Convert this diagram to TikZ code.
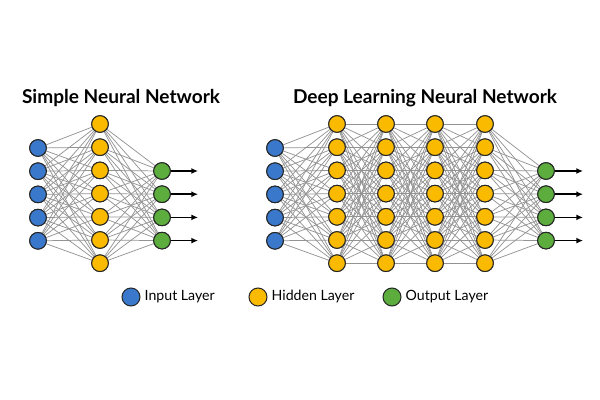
\documentclass[tikz,border=0pt]{standalone}
\usepackage{fontspec}
\setmainfont{Lato}
\begin{document}
\begin{tikzpicture}[x=0.75pt,y=-0.75pt,
  conn/.style={draw=gray!85,line width=0.55pt},
  nd/.style={circle,draw=black!85,line width=0.75pt,minimum size=12.5pt,inner sep=0pt},
  inp/.style={nd,fill={rgb,255:red,58;green,120;blue,204}},
  hid/.style={nd,fill={rgb,255:red,250;green,186;blue,0}},
  outp/.style={nd,fill={rgb,255:red,92;green,172;blue,62}},
  arr/.style={-{Latex[length=5pt,width=4.5pt]},line width=1.1pt},
  ttl/.style={font=\fontsize{14.3}{17}\selectfont\bfseries},
  lg/.style={font=\fontsize{10.6}{12}\selectfont,anchor=west}]
\usetikzlibrary{arrows.meta}
\useasboundingbox (0,0) rectangle (600,400);
% simple network
\foreach \i in {1,...,5} \node[inp] (sa\i) at (38,{148+23.2*(\i-1)}) {};
\foreach \i in {1,...,7} \node[hid] (sb\i) at (100,{124+23.2*(\i-1)}) {};
\foreach \i in {1,...,4} \node[outp] (sc\i) at (162,{171+23.2*(\i-1)}) {};
\foreach \i in {1,...,5} \foreach \j in {1,...,7} \draw[conn] (sa\i) -- (sb\j);
\foreach \i in {1,...,7} \foreach \j in {1,...,4} \draw[conn] (sb\i) -- (sc\j);
\foreach \i in {1,...,5} \node[inp] at (sa\i) {};
\foreach \i in {1,...,7} \node[hid] at (sb\i) {};
\foreach \i in {1,...,4} {\node[outp] at (sc\i) {}; \coordinate (se\i) at (198,{171+23.2*(\i-1)}); \draw[arr] (sc\i) -- (se\i);}
\node[ttl] (t1) at (121,98) {Simple Neural Network};
% deep network
\foreach \i in {1,...,5} \node[inp] (da\i) at (275,{148+23.2*(\i-1)}) {};
\foreach \l/\x in {1/337,2/386,3/435,4/485} \foreach \i in {1,...,7} \node[hid] (h\l-\i) at (\x,{124+23.2*(\i-1)}) {};
\foreach \i in {1,...,4} \node[outp] (dc\i) at (546,{171+23.2*(\i-1)}) {};
\foreach \i in {1,...,5} \foreach \j in {1,...,7} \draw[conn] (da\i) -- (h1-\j);
\foreach \l/\m in {1/2,2/3,3/4} \foreach \i in {1,...,7} \foreach \j in {1,...,7} \draw[conn] (h\l-\i) -- (h\m-\j);
\foreach \i in {1,...,7} \foreach \j in {1,...,4} \draw[conn] (h4-\i) -- (dc\j);
\foreach \i in {1,...,5} \node[inp] at (da\i) {};
\foreach \l in {1,...,4} \foreach \i in {1,...,7} \node[hid] at (h\l-\i) {};
\foreach \i in {1,...,4} {\node[outp] at (dc\i) {}; \coordinate (de\i) at (583,{171+23.2*(\i-1)}); \draw[arr] (dc\i) -- (de\i);}
\node[ttl] (t2) at (425,98) {Deep Learning Neural Network};
% legend
\node[inp,minimum size=13.5pt] (l1) at (131,297) {};
\node[lg] (l1t) at (140,297) {Input Layer};
\node[hid,minimum size=13.5pt] (l2) at (258,297) {};
\node[lg] (l2t) at (267,297) {Hidden Layer};
\node[outp,minimum size=13.5pt] (l3) at (392,297) {};
\node[lg] (l3t) at (401,297) {Output Layer};
\end{tikzpicture}
\end{document}
